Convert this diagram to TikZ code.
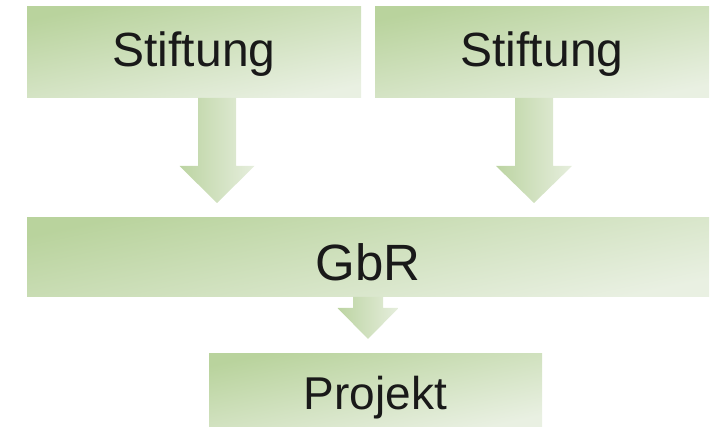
\documentclass[tikz,border=0pt]{standalone}
\usepackage{fontspec}
\setmainfont{Liberation Sans}
\usetikzlibrary{calc}
\definecolor{boxgreen}{HTML}{B9D39D}
\definecolor{boxpale}{HTML}{E9F0E2}
\definecolor{arrowgreen}{HTML}{BCD4A2}
\definecolor{arrowpale}{HTML}{E6EEDD}

\tikzset{
    box/.style={rectangle, inner sep=0pt, outer sep=0pt, top color=boxgreen, bottom color=boxpale, shading angle=12, text=black!90},
    arrowfill/.style={left color=arrowgreen, right color=arrowpale}
}

% block arrow: #1 start, #2 tip, #3 shaft half width, #4 head half width, #5 head length
\newcommand{\blockarrow}[5]{%
    \shade[arrowfill] ($(#1)+(-#3,0)$) -- ($(#2)+(-#3,-#5)$) -- ($(#2)+(-#4,-#5)$) -- (#2)
        -- ($(#2)+(#4,-#5)$) -- ($(#2)+(#3,-#5)$) -- ($(#1)+(#3,0)$) -- cycle;}

\begin{document}
\begin{tikzpicture}[x=1pt, y=-1pt]
    \useasboundingbox (0,0) rectangle (710,427);
    % Boxes
    \node[box, minimum width=334pt, minimum height=91pt, font=\fontsize{48}{58}\selectfont, text height=35pt, text depth=6.6pt] (s1) at (194,52.5) {Stiftung};
    \node[box, minimum width=334pt, minimum height=91pt, font=\fontsize{48}{58}\selectfont, text height=35pt, text depth=6.6pt] (s2) at (542,52.5) {Stiftung};
    \node[box, minimum width=682pt, minimum height=79pt, font=\fontsize{51}{61}\selectfont, text height=47pt, text depth=0pt] (gbr) at (368,257.5) {GbR};
    \node[box, minimum width=333pt, minimum height=73pt, font=\fontsize{46}{55}\selectfont, text height=38pt, text depth=0pt] (proj) at (375.5,390.5) {Projekt};
    % Arrows
    \coordinate (a1top) at ($(s1.south west)+(190,0)$);
    \coordinate (a1tip) at ($(gbr.north west)+(190,-15)$);
    \coordinate (a2top) at ($(s2.south west)+(159,0)$);
    \coordinate (a2tip) at ($(gbr.north west)+(507,-15)$);
    \coordinate (a3top) at ($(gbr.south west)+(341,0)$);
    \coordinate (a3tip) at ($(proj.north west)+(159,-15)$);
    \blockarrow{a1top}{a1tip}{19}{37.5}{37}
    \blockarrow{a2top}{a2tip}{19}{38}{37}
    \blockarrow{a3top}{a3tip}{15}{30.5}{31}
\end{tikzpicture}
\end{document}
